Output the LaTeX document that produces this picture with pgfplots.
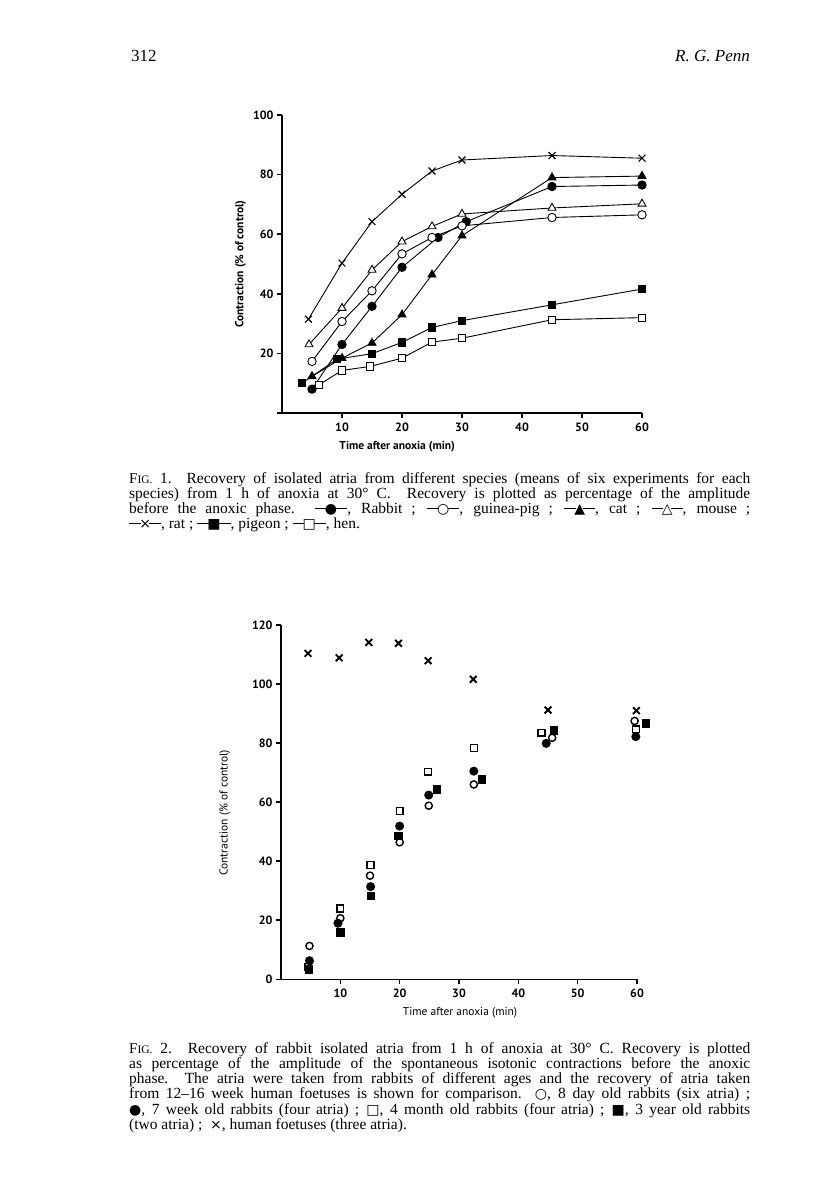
\documentclass[border=0pt]{standalone}
\usepackage{fontspec}
\setmainfont{Liberation Serif}
\newfontfamily\axf{PT Sans}
\newfontfamily\symf{DejaVu Sans}
\usepackage{pgfplots}
\pgfplotsset{compat=1.18}
\newcommand{\sy}[1]{{\symf\fontsize{14}{14}\selectfont #1}}
\newcommand{\dsh}{\rule[0.3em]{0.75em}{0.7pt}}
\newcommand{\lsym}[1]{\dsh\kern-0.1em\sy{#1}\kern-0.1em\dsh}
\newcommand{\fig}{{\fontsize{15}{14}\selectfont F\fontsize{11.5}{14}\selectfont IG.}}
\begin{document}
\begin{tikzpicture}
\path[fill=white] (0pt,0pt) rectangle (816pt,-1204pt);
\node[anchor=base west,inner sep=0pt,font=\fontsize{17}{17}\selectfont] at (131pt,-62pt) {312};
\node[anchor=base east,inner sep=0pt,font=\fontsize{17}{17}\selectfont\itshape] at (750pt,-62pt) {R. G. Penn};

\pgfplotsset{
 myax/.style={scale only axis, xmin=0, xmax=60, clip=false,
  axis x line*=bottom, axis y line*=left,
  axis line style={line width=1.6pt},
  xtick={10,20,...,60},
  tick align=outside, major tick length=5pt,
  tick style={line width=1.6pt, black},
  /pgf/number format/assume math mode=true,
  ticklabel style={font=\axf\bfseries\fontsize{12}{12}\selectfont},
  xticklabel style={yshift=-1pt},
 }
}

% ---------------- Fig 1 ----------------
\begin{axis}[myax, at={(282pt,-413pt)}, anchor=south west, width=360pt, height=298pt,
 ymin=0, ymax=100, ytick={0,20,...,100}, yticklabels={,20,40,60,80,100},
 xlabel={Time after anoxia (min)}, ylabel={Contraction (\% of control)},
 label style={font=\axf\bfseries\fontsize{11.5}{12}\selectfont},
 xlabel style={at={(axis description cs:0.32,-0.114)},anchor=center},
 ylabel style={at={(axis description cs:-0.115,0.5)},anchor=center},
 every axis plot/.append style={black, line width=0.9pt},
]
% hen
\addplot[mark=square*, mark size=3.6pt, mark options={fill=white}] coordinates {(6.2,9.5)(10,14.3)(14.6,15.6)(20,18.4)(25,23.8)(30,25.1)(45,31.3)(60,32)};
% pigeon
\addplot[mark=square*, mark size=3.6pt, mark options={fill=black}] coordinates {(3.3,10)(9.2,18.1)(15,19.9)(20,23.7)(25,28.7)(30,31)(45,36.3)(60,41.6)};
% cat
\addplot[mark=triangle*, mark size=4.6pt, mark options={fill=black}] coordinates {(5,12.3)(10,18.4)(15,23.5)(20,33)(25,46.4)(30,59.5)(45,79)(60,79.5)};
% rabbit
\addplot[mark=*, mark size=4.2pt, mark options={fill=black}] coordinates {(5,8)(10,23)(15,35.8)(20,48.9)(26,58.9)(30.7,64.2)(45,76)(60,76.5)};
% guinea pig
\addplot[mark=*, mark size=4.2pt, mark options={fill=white}] coordinates {(5,17.3)(10,30.7)(15,41)(20,53.4)(25,58.9)(30,62.8)(45,65.6)(60,66.5)};
% mouse
\addplot[mark=triangle*, mark size=4.6pt, mark options={fill=white}] coordinates {(4.5,23)(10,35.2)(15,48)(20,57.5)(25,62.6)(30,66.8)(45,68.8)(60,70.2)};
% rat
\addplot[mark=x, mark size=4.8pt, mark options={line width=1.1pt}] coordinates {(4.4,31.5)(10,50.3)(15,64.2)(20,73.4)(25,81.2)(30,84.9)(45,86.4)(60,85.5)};
\end{axis}

\node[anchor=base west, inner sep=0pt, text width=621pt, align=justify, font=\fontsize{15.5}{14}\selectfont] at (129pt,-483pt) {%
\fig\ 1.\ \ Recovery of isolated atria from different species (means of six experiments for each\linebreak
species) from 1 h of anoxia at 30° C.\ \ Recovery is plotted as percentage of the amplitude\linebreak
before the anoxic phase. \lsym{●}, Rabbit ; \lsym{○}, guinea-pig ; \lsym{▲}, cat ; \lsym{△}, mouse ;\linebreak
\lsym{×}, rat ; \lsym{■}, pigeon ; \lsym{□}, hen.};

% ---------------- Fig 2 ----------------
\begin{axis}[myax, at={(281pt,-979.3pt)}, anchor=south west, width=356pt, height=354.3pt,
 ymin=0, ymax=120, ytick={0,20,...,120},
 xlabel={Time after anoxia (min)}, ylabel={Contraction (\% of control)},
 label style={font=\axf\fontsize{11.5}{12}\selectfont},
 xlabel style={at={(axis description cs:0.503,-0.095)},anchor=center},
 ylabel style={at={(axis description cs:-0.158,0.47)},anchor=center},
 every axis plot/.append style={black, only marks, line width=1.4pt},
]
\addplot[mark=x, mark size=4.8pt, mark options={line width=1.9pt}] coordinates {(4.55,110.4)(9.8,108.9)(14.8,114.1)(19.8,113.8)(24.8,107.9)(32.4,101.6)(45,91.2)(59.9,91)};
\addplot[mark=*, mark size=3.6pt, mark options={fill=white}] coordinates {(4.8,11.3)(10,20.7)(15,35.1)(20,46.4)(24.9,58.8)(32.5,66)(45.7,81.8)(59.6,87.5)};
\addplot[mark=square*, mark size=3.4pt, mark options={fill=white}] coordinates {(4.6,4.3)(10,24)(15.1,38.7)(20,57)(24.8,70.3)(32.5,78.4)(43.9,83.5)(59.8,84.7)};
\addplot[mark=*, mark size=3.8pt, mark options={fill=black}] coordinates {(4.8,6.3)(9.6,19)(15.1,31.4)(20,51.9)(24.9,62.4)(32.5,70.5)(44.7,79.9)(59.8,82.2)};
\addplot[mark=square*, mark size=3.6pt, mark options={fill=black}] coordinates {(4.7,3.4)(10,15.8)(15.2,28.2)(19.8,48.6)(26.3,64.3)(33.9,67.7)(46,84.2)(61.5,86.7)};
\end{axis}

\node[anchor=base west, inner sep=0pt, text width=621pt, align=justify, font=\fontsize{15.5}{14}\selectfont] at (129pt,-1053pt) {%
\fig\ 2.\ \ Recovery of rabbit isolated atria from 1 h of anoxia at 30° C. Recovery is plotted\linebreak
as percentage of the amplitude of the spontaneous isotonic contractions before the anoxic\linebreak
phase.\ \ The atria were taken from rabbits of different ages and the recovery of atria taken\linebreak
from 12–16 week human foetuses is shown for comparison.\ \ \sy{○}, 8 day old rabbits (six atria) ;\linebreak
\sy{●}, 7 week old rabbits (four atria) ; \sy{□}, 4 month old rabbits (four atria) ; \sy{■}, 3 year old rabbits\linebreak
(two atria) ;\ \ \sy{×}, human foetuses (three atria).};
\end{tikzpicture}
\end{document}
